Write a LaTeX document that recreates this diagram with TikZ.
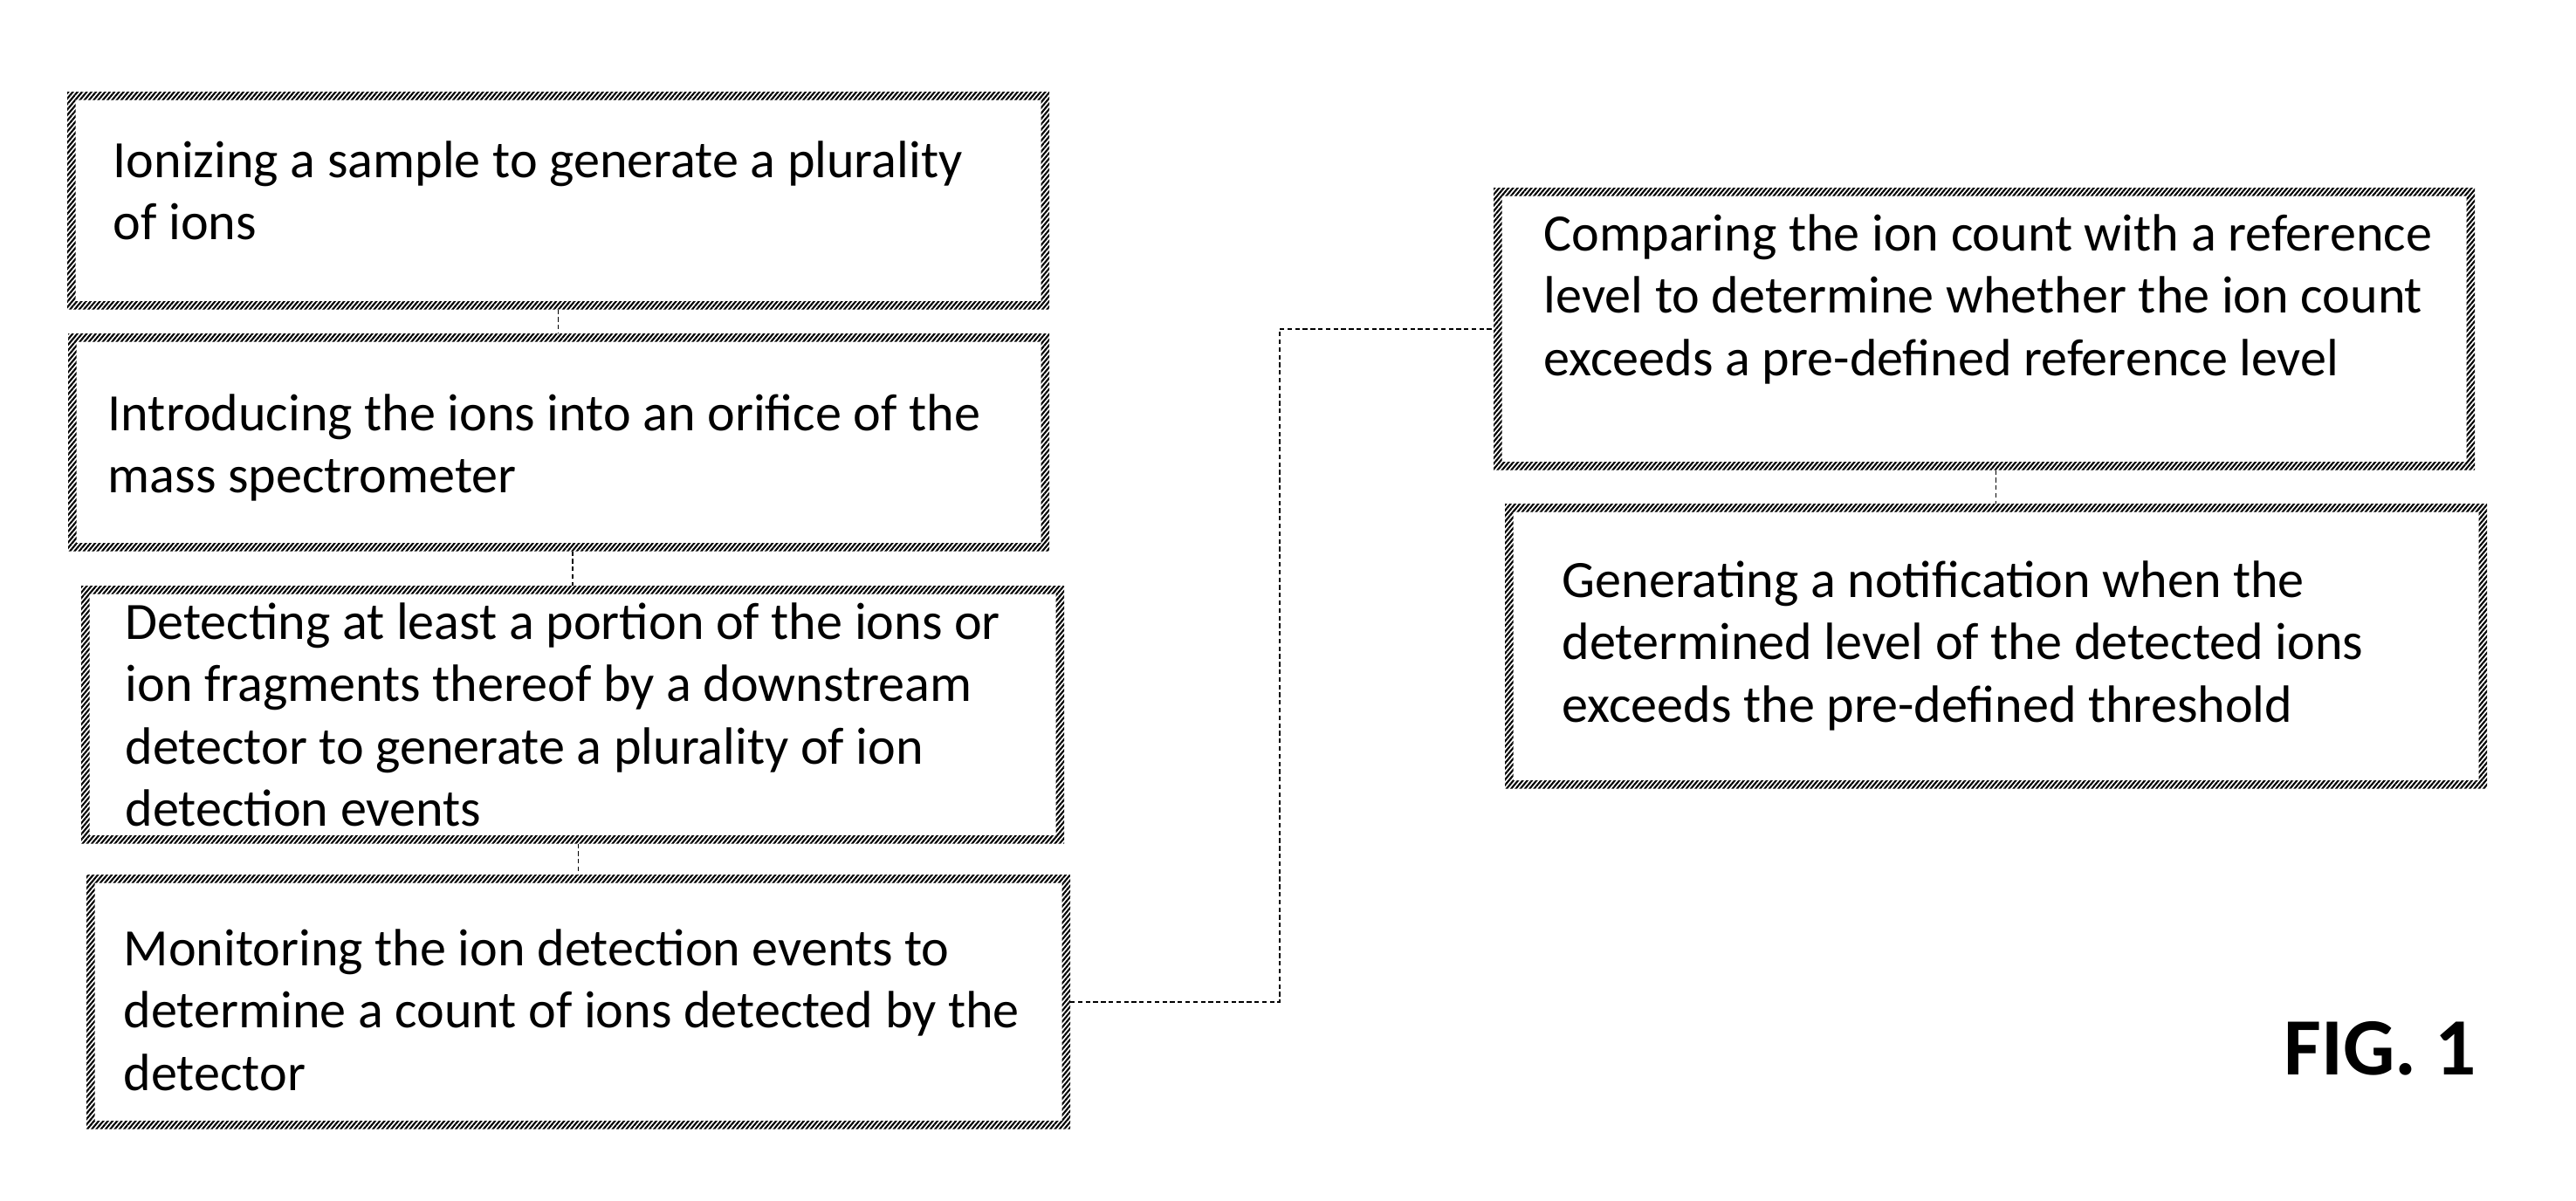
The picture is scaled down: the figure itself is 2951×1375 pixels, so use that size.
\documentclass[tikz,border=0pt]{standalone}
\usepackage{fontspec}
\setmainfont{Carlito}
\usetikzlibrary{patterns.meta}
\tikzset{
  stepbox/.style={rectangle, inner sep=0pt, draw=none, anchor=north west},
  body/.style={inner sep=0pt, anchor=base west, font=\fontsize{17.1pt}{20.35pt}\selectfont},
  conn/.style={draw=black, line width=0.45pt, dash pattern=on 1.5pt off 1pt},
  band/.style={pattern={Lines[angle=50,distance=1.15pt,line width=0.6pt]}, even odd rule},
}
\newcommand{\hatchframe}[1]{%
  \path[band] (#1.north west) rectangle (#1.south east)
    ([shift={(0.095cm,-0.095cm)}]#1.north west) rectangle ([shift={(-0.095cm,0.095cm)}]#1.south east);}
\newcommand{\lines}[1]{\parbox[t]{12cm}{\raggedright #1}}
\begin{document}
\begin{tikzpicture}[x=0.01cm,y=-0.01cm]
\fill[white] (0,0) rectangle (2951,1375);
\useasboundingbox (0,0) rectangle (2951,1375);

% boxes
\node[stepbox, minimum width=11.23cm, minimum height=2.48cm] (b1) at (77,105) {};
\node[stepbox, minimum width=11.22cm, minimum height=2.48cm] (b2) at (78,382) {};
\node[stepbox, minimum width=11.24cm, minimum height=2.94cm] (b3) at (93,671) {};
\node[stepbox, minimum width=11.25cm, minimum height=2.90cm] (b4) at (99,1002) {};
\node[stepbox, minimum width=11.22cm, minimum height=3.22cm] (b5) at (1711,215) {};
\node[stepbox, minimum width=11.23cm, minimum height=3.25cm] (b6) at (1724,577) {};
\foreach \b in {b1,b2,b3,b4,b5,b6} {\hatchframe{\b}}

% texts
\node[body] (t1) at (129,203) {\lines{Ionizing a sample to generate a plurality\\of ions}};
\node[body] (t2) at (123,493) {\lines{Introducing the ions into an orifice of the\\mass spectrometer}};
\node[body] (t3) at (143,732) {\lines{Detecting at least a portion of the ions or\\ion fragments thereof by a downstream\\detector to generate a plurality of ion\\detection events}};
\node[body] (t4) at (141,1106) {\lines{Monitoring the ion detection events to\\determine a count of ions detected by the\\detector}};
\node[body] (t5) at (1768,287) {\lines{Comparing the ion count with a reference\\level to determine whether the ion count\\exceeds a pre-defined reference level}};
\node[body] (t6) at (1789,684) {\lines{Generating a notification when the\\determined level of the detected ions\\exceeds the pre-defined threshold}};

% connectors
\coordinate (k) at (1466,0);
\draw[conn] (b1.south) -- (b1.south |- b2.north);
\draw[conn] (b2.south -| b3.north) -- (b3.north);
\draw[conn] (b3.south -| b4.north) -- (b4.north);
\draw[conn] (b4.east) -- (b4.east -| k) |- (b5.west);
\draw[conn] (b5.south -| b6.north) -- (b6.north);

\node[inner sep=0pt, anchor=base west, font=\fontsize{26.5pt}{30pt}\selectfont\bfseries] (fig) at (2616,1231) {FIG. 1};
\end{tikzpicture}
\end{document}
